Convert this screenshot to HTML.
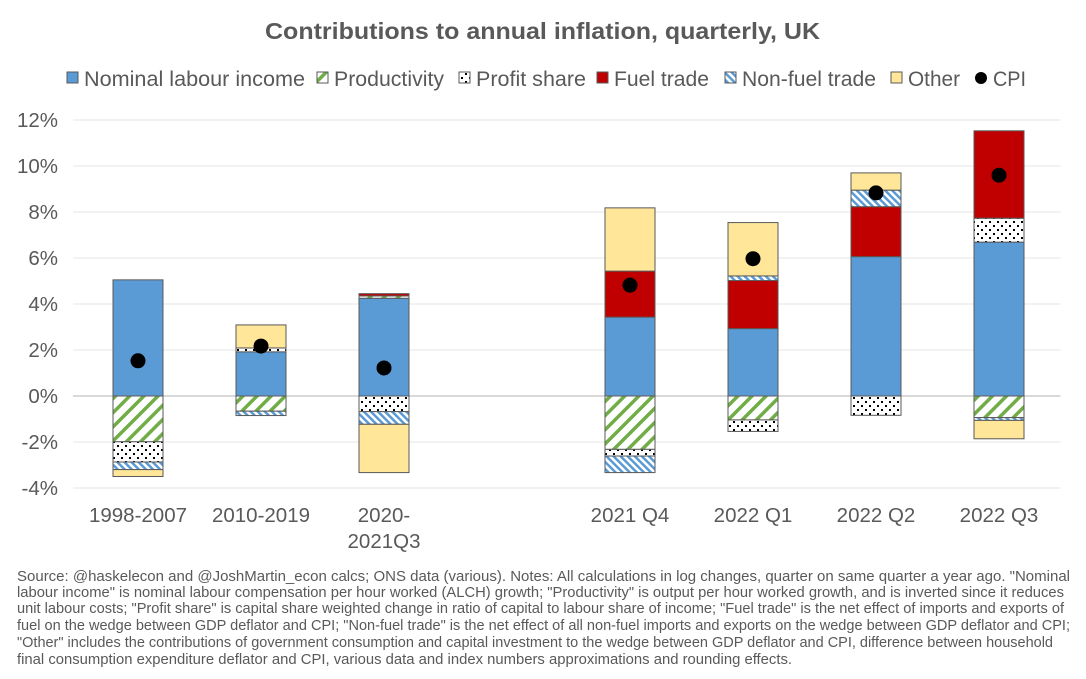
<!DOCTYPE html>
<html><head><meta charset="utf-8"><style>
html,body{margin:0;padding:0;background:#fff}
svg{display:block;font-family:"Liberation Sans",Arial,sans-serif}
</style></head><body>
<svg id="chart" width="1086" height="679" viewBox="0 0 1086 679">
<defs>
<pattern id="pGreen" patternUnits="userSpaceOnUse" width="10" height="10" patternTransform="rotate(45)">
<rect width="10" height="10" fill="#fff"/><rect x="0" y="0" width="3.5" height="10" fill="#70ad47"/></pattern>
<pattern id="pBlue" patternUnits="userSpaceOnUse" width="5" height="5" patternTransform="rotate(-45)">
<rect width="5" height="5" fill="#fff"/><rect x="0" y="0" width="2.5" height="5" fill="#5b9bd5"/></pattern>
<pattern id="pDots" patternUnits="userSpaceOnUse" width="8" height="8">
<rect width="8" height="8" fill="#fff"/><rect x="1" y="1" width="2" height="2" fill="#000"/><rect x="5" y="5" width="2" height="2" fill="#000"/></pattern>
</defs>
<text x="265" y="39" textLength="555" lengthAdjust="spacingAndGlyphs" font-size="23" font-weight="bold" fill="#595959">Contributions to annual inflation, quarterly, UK</text>
<g id="legend" font-size="21.5" fill="#595959"></g>
<g id="grid"></g>
<g id="yaxis" font-size="20.5" fill="#595959"></g>
<g id="bars"></g>
<g id="xaxis" font-size="20.5" fill="#595959"></g>
<g font-size="14.3" fill="#595959" lengthAdjust="spacingAndGlyphs">
<text x="17" y="581" textLength="1053" lengthAdjust="spacingAndGlyphs">Source: @haskelecon and @JoshMartin_econ calcs; ONS data (various). Notes: All calculations in log changes, quarter on same quarter a year ago. "Nominal</text>
<text x="17" y="597" textLength="1047" lengthAdjust="spacingAndGlyphs">labour income" is nominal labour compensation per hour worked (ALCH) growth; "Productivity" is output per hour worked growth, and is inverted since it reduces</text>
<text x="17" y="613" textLength="1047" lengthAdjust="spacingAndGlyphs">unit labour costs; "Profit share" is capital share weighted change in ratio of capital to labour share of income; "Fuel trade" is the net effect of imports and exports of</text>
<text x="17" y="630" textLength="1053" lengthAdjust="spacingAndGlyphs">fuel on the wedge between GDP deflator and CPI; "Non-fuel trade" is the net effect of all non-fuel imports and exports on the wedge between GDP deflator and CPI;</text>
<text x="17" y="647" textLength="1036" lengthAdjust="spacingAndGlyphs">"Other" includes the contributions of government consumption and capital investment to the wedge between GDP deflator and CPI, difference between household</text>
<text x="17" y="664" textLength="775" lengthAdjust="spacingAndGlyphs">final consumption expenditure deflator and CPI, various data and index numbers approximations and rounding effects.</text>
</g>
</svg>
<script>
const categories = ["1998-2007","2010-2019","2020-2021Q3","","2021 Q4","2022 Q1","2022 Q2","2022 Q3"];
const labour     = [5.05, 1.92, 4.25, null, 3.43, 2.93, 6.06, 6.69];
const productivity=[-1.99,-0.66, 0.10, null,-2.32,-1.04, 0.00,-0.94];
const profitShare= [-0.88, 0.17, -0.68, null,-0.29,-0.50,-0.84, 1.04];
const fuelTrade  = [0.00, 0.00, 0.10, null, 2.00, 2.09, 2.17, 3.80];
const nonFuel    = [-0.33,-0.19,-0.55, null,-0.72, 0.20, 0.72,-0.12];
const other      = [-0.30, 1.00,-2.10, null, 2.75, 2.32, 0.75,-0.80];
const cpi        = [1.53, 2.17, 1.22, null, 4.82, 5.97, 8.83, 9.60];
const yTicks = [-4,-2,0,2,4,6,8,10,12];

const NS="http://www.w3.org/2000/svg";
function mk(t,a,p){const e=document.createElementNS(NS,t);for(const k in a)e.setAttribute(k,a[k]);p.appendChild(e);return e;}
const plotL=76.5, plotR=1060.5, yTop=120, yBot=488, vMin=-4, vMax=12;
const y = v => yTop + (vMax - v) * (yBot - yTop) / (vMax - vMin);
const slotW=(plotR-plotL)/categories.length;
const xc = i => plotL + slotW*(i+0.5);
const barW=50;

const grid=document.getElementById('grid'), yaxis=document.getElementById('yaxis');
yTicks.forEach(t=>{
  const l=mk('line',{x1:73,x2:plotR,y1:y(t),y2:y(t),stroke:t===0?'#d9d9d9':'#eeeeee','stroke-width':t===0?2:1.5},grid);
  
  
  const tx=mk('text',{x:58,y:y(t)+7,'text-anchor':'end'},yaxis);
  tx.textContent=t+'%';
  
  
});

const series=[
 {name:'Nominal labour income',data:labour,fill:'#5b9bd5'},
 {name:'Productivity',data:productivity,fill:'url(#pGreen)'},
 {name:'Profit share',data:profitShare,fill:'url(#pDots)'},
 {name:'Fuel trade',data:fuelTrade,fill:'#c00000'},
 {name:'Non-fuel trade',data:nonFuel,fill:'url(#pBlue)'},
 {name:'Other',data:other,fill:'#ffe699'}
];
const bars=document.getElementById('bars');
categories.forEach((c,i)=>{
  if(labour[i]===null)return;
  let pos=0,neg=0;
  series.forEach(s=>{
    const v=s.data[i]; if(!v)return;
    let a,b; if(v>0){a=pos;b=pos+v;pos=b;}else{a=neg;b=neg+v;neg=b;}
    const r=mk('rect',{x:xc(i)-barW/2,y:Math.min(y(a),y(b)),width:barW,height:Math.abs(y(a)-y(b)),fill:s.fill,stroke:'#595959','stroke-width':1},bars);
    
    
  });
  const d=mk('circle',{cx:xc(i),cy:y(cpi[i]),r:7.5,fill:'#000'},bars);
  
  
});

const xaxis=document.getElementById('xaxis');
categories.forEach((c,i)=>{
  if(!c)return;
  const t=mk('text',{x:xc(i),y:522,'text-anchor':'middle'},xaxis);
  
  
  if(c==='2020-2021Q3'){t.textContent='2020-';const t2=mk('text',{x:xc(i),y:548,'text-anchor':'middle'},xaxis);t2.textContent='2021Q3';
    
    }
  else t.textContent=c;
});

const legend=document.getElementById('legend');
const lg=[[64,'Nominal labour income','#5b9bd5',221],[314,'Productivity','url(#pGreen)',110],[456,'Profit share','url(#pDots)',110],[594,'Fuel trade','#c00000',95],[722,'Non-fuel trade','url(#pBlue)',134],[888,'Other','#ffe699',52]];
lg.forEach(([x,n,f,w])=>{
  const r=mk('rect',{x:x+3,y:72,width:11,height:11,fill:f,stroke:'#595959','stroke-width':1},legend);
  
  
  const t=mk('text',{x:x+20,y:86,textLength:w,lengthAdjust:'spacingAndGlyphs'},legend);t.textContent=n;
  
  
});
const lc=mk('circle',{cx:981,cy:78,r:6,fill:'#000'},legend);


const lt=mk('text',{x:993,y:86,textLength:33,lengthAdjust:'spacingAndGlyphs'},legend);lt.textContent='CPI';


</script>
</body></html>
